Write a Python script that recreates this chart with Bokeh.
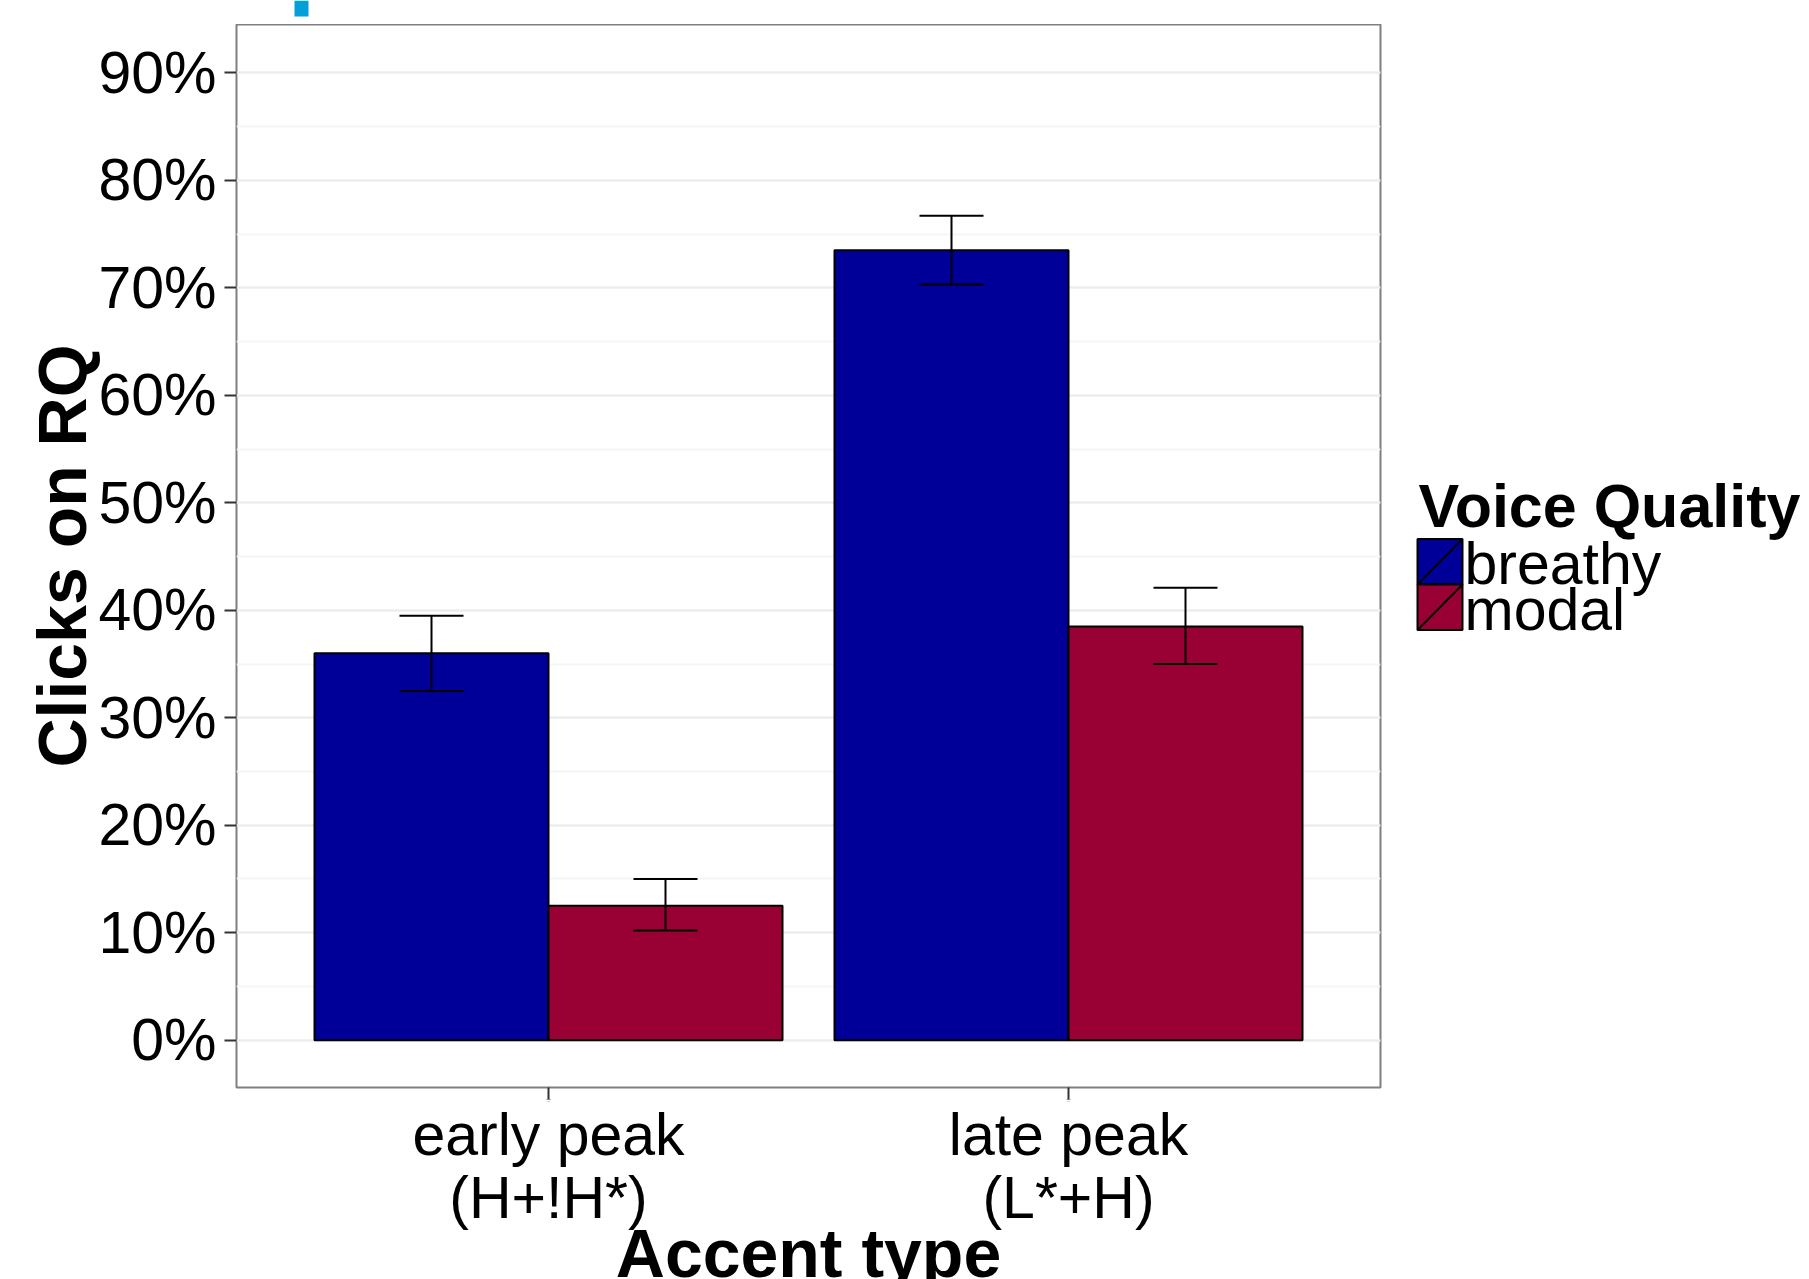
from bokeh.plotting import figure
from bokeh.models import (ColumnDataSource, Range1d, FactorRange, Whisker, TeeHead,
                          SingleIntervalTicker, NumeralTickFormatter)
from bokeh.transform import dodge
from bokeh.layouts import row, column
from bokeh.core.properties import value
from bokeh.embed import file_html
from bokeh.resources import INLINE

# ---- data ----
categories = ["early peak\n(H+!H*)", "late peak\n(L*+H)"]
series = ["breathy", "modal"]
breathy = [0.360, 0.735]
breathy_lo = [0.325, 0.703]
breathy_hi = [0.395, 0.767]
modal = [0.125, 0.385]
modal_lo = [0.102, 0.350]
modal_hi = [0.150, 0.421]
colors = ["#000099", "#990033"]
x_title = "Accent type"
y_title = "Clicks on RQ"
legend_title = "Voice Quality"

FONT = "Liberation Sans"
PAGE_H = 1279
TOP = 24                 # strip above the panel
FRAME_H = 1064
BOTTOM = 16              # room for the x ticks below the panel
MAIN_H = FRAME_H + BOTTOM
STRIP_H = PAGE_H - TOP - MAIN_H   # strip with x tick labels and x title
LEFT, RIGHT, MAIN_W = 236, 20, 1400
FRAME_W = MAIN_W - LEFT - RIGHT
LEG_W = 1809 - MAIN_W
SHIFT59, SHIFT68 = -18, -20       # baseline compensation of the text glyph

src = ColumnDataSource(dict(cat=categories, breathy=breathy, breathy_lo=breathy_lo,
                            breathy_hi=breathy_hi, modal=modal, modal_lo=modal_lo,
                            modal_hi=modal_hi))

xr = FactorRange(factors=categories, range_padding=0.1)
p = figure(width=MAIN_W, height=MAIN_H, output_backend="svg", toolbar_location=None,
           x_range=xr, y_range=Range1d(-0.044, 0.945),
           min_border_left=LEFT, min_border_top=0, min_border_right=RIGHT, min_border_bottom=BOTTOM)

offsets = [-0.225, 0.225]
for s, off, c in zip(series, offsets, colors):
    p.vbar(x=dodge("cat", off, range=p.x_range), top=s, bottom=0, width=0.45, source=src,
           fill_color=c, line_color="black", line_width=2)
    w = Whisker(source=src, base=dodge("cat", off, range=p.x_range), upper=s + "_hi", lower=s + "_lo",
                line_color="black", line_width=2, level="overlay",
                upper_head=TeeHead(size=64, line_width=2, line_color="black"),
                lower_head=TeeHead(size=64, line_width=2, line_color="black"))
    p.add_layout(w)

p.outline_line_color = "#7f7f7f"
p.outline_line_width = 2
p.background_fill_color = "white"
p.border_fill_color = "white"

p.xgrid.grid_line_color = None
p.yaxis.ticker = SingleIntervalTicker(interval=0.1, num_minor_ticks=2)
p.ygrid.ticker = p.yaxis.ticker
p.ygrid.grid_line_color = "#ebebeb"
p.ygrid.grid_line_width = 2
p.ygrid.minor_grid_line_color = "#f6f6f6"
p.ygrid.minor_grid_line_width = 2
p.yaxis.formatter = NumeralTickFormatter(format="0%")

for ax in (p.xaxis[0], p.yaxis[0]):
    ax.axis_line_color = None
    ax.major_tick_line_color = "#333333"
    ax.major_tick_line_width = 2
    ax.major_tick_out = 12
    ax.major_tick_in = 0
    ax.minor_tick_line_color = None
    ax.major_label_text_font = FONT
    ax.major_label_text_font_size = "59px"
    ax.major_label_text_color = "black"
    ax.axis_label_text_font = FONT
    ax.axis_label_text_font_style = "bold"
    ax.axis_label_text_font_size = "68px"
    ax.axis_label_text_color = "black"

p.yaxis.major_label_standoff = 8
p.yaxis.axis_label = y_title
p.yaxis.axis_label_standoff = -5
# x tick labels are drawn in the strip below (they overlap the x title there)
p.xaxis.major_label_overrides = {c: "" for c in categories}
p.xaxis.major_label_text_font_size = "1px"
p.xaxis.major_label_standoff = 0


def blank(fig):
    fig.grid.visible = False
    fig.outline_line_color = None
    fig.border_fill_color = "white"
    fig.background_fill_color = "white"


# ---- strip above the panel: small cyan remnant mark of the original image ----
top_strip = figure(width=MAIN_W, height=TOP, output_backend="svg", toolbar_location=None,
                   x_range=Range1d(0, FRAME_W), y_range=Range1d(TOP, 0),
                   min_border_left=LEFT, min_border_right=RIGHT, min_border_top=0, min_border_bottom=0,
                   x_axis_location=None, y_axis_location=None)
blank(top_strip)
top_strip.quad(left=[58], right=[72], top=[0], bottom=[16], fill_color="#039fd8", line_color=None)

# ---- strip below: x tick labels (two lines) and x-axis title; y = page px - strip top ----
strip_top = TOP + MAIN_H
bottom_strip = figure(width=MAIN_W, height=STRIP_H, output_backend="svg", toolbar_location=None,
                      x_range=xr, y_range=Range1d(STRIP_H, 0),
                      min_border_left=LEFT, min_border_right=RIGHT, min_border_top=0, min_border_bottom=0,
                      x_axis_location=None, y_axis_location=None)
blank(bottom_strip)
line1 = [c.split("\n")[0] for c in categories]
line2 = [c.split("\n")[1] for c in categories]
for lines, base in ((line1, 1152), (line2, 1215)):
    bottom_strip.text(x=categories, y=[base - strip_top + SHIFT59] * len(categories), text=lines,
                      text_font=value(FONT), text_font_size="59px", text_align="center",
                      text_baseline="alphabetic", text_color="black")
bottom_strip.text(x=[1.0], y=[1272 - strip_top + SHIFT68], text=[x_title], text_font=value(FONT),
                  text_font_style="bold", text_font_size="68px", text_align="center",
                  text_baseline="alphabetic", text_color="black")

# ---- legend panel (y in page pixels; frame spans the panel's rows) ----
lg = figure(width=LEG_W, height=MAIN_H, output_backend="svg", toolbar_location=None,
            x_range=Range1d(0, LEG_W), y_range=Range1d(TOP + FRAME_H, TOP),
            min_border_left=0, min_border_right=0, min_border_top=0, min_border_bottom=BOTTOM,
            x_axis_location=None, y_axis_location=None)
blank(lg)

lg.text(x=[18], y=[524 + SHIFT59], text=[legend_title], text_font=value(FONT), text_font_style="bold",
        text_font_size="61px", text_baseline="alphabetic", text_color="black")
key_top = 539
key_h = 45.5
ky = [key_top + key_h * i + key_h / 2 for i in range(len(series))]
lg.rect(x=[39.5] * len(series), y=ky, width=45, height=key_h, fill_color=colors,
        line_color="black", line_width=2)
lg.segment(x0=[17] * len(series), y0=[y + key_h / 2 for y in ky],
           x1=[62] * len(series), y1=[y - key_h / 2 for y in ky],
           line_color="black", line_width=2)
lg.text(x=[64] * len(series), y=[y + 20.5 + SHIFT59 for y in ky], text=series, text_font=value(FONT),
        text_font_size="59px", text_baseline="alphabetic", text_color="black")

layout = column(top_strip, row(p, lg, spacing=0), bottom_strip, spacing=0)
open("out.html", "w").write(file_html(layout, INLINE))
